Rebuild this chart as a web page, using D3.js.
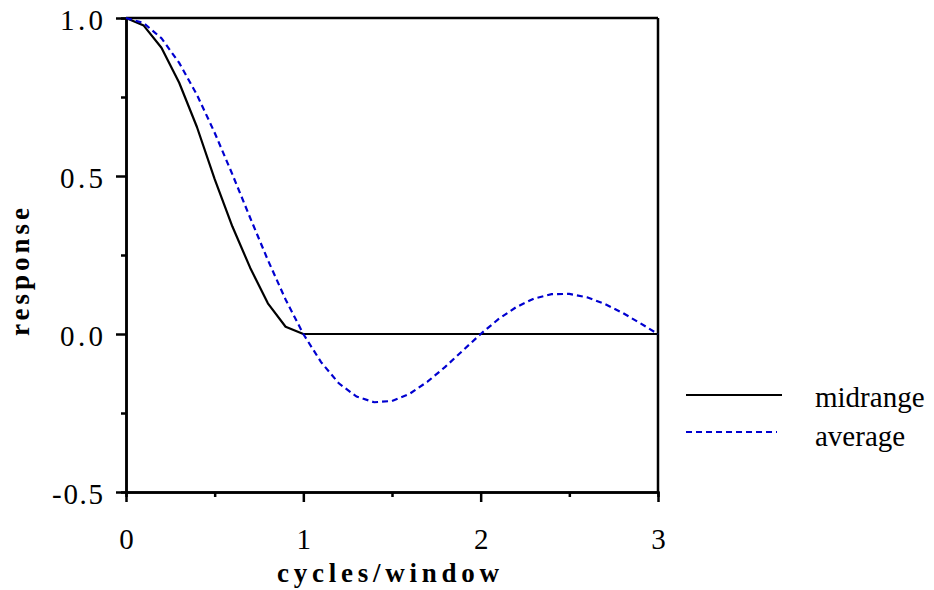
<!DOCTYPE html>
<html>
<head>
<meta charset="utf-8">
<script src="https://cdn.jsdelivr.net/npm/d3@7"></script>
<style>
  body { margin: 0; background: #fff; }
  svg { display: block; }
</style>
</head>
<body>
<svg id="chart" width="934" height="590"></svg>
<script>
// ---- data ----
const xMidrange = [0, 0.1, 0.2, 0.3, 0.4, 0.5, 0.6, 0.7, 0.8, 0.9, 1.0,
  1.1, 1.2, 1.3, 1.4, 1.5, 1.6, 1.7, 1.8, 1.9, 2.0,
  2.1, 2.2, 2.3, 2.4, 2.5, 2.6, 2.7, 2.8, 2.9, 3.0];
const midrange = [1.0, 0.976, 0.906, 0.795, 0.655, 0.49, 0.34, 0.21, 0.097, 0.023, 0.0,
  0, 0, 0, 0, 0, 0, 0, 0, 0, 0,
  0, 0, 0, 0, 0, 0, 0, 0, 0, 0];
const xAverage = [0, 0.1, 0.2, 0.3, 0.4, 0.5, 0.6, 0.7, 0.8, 0.9, 1.0,
  1.1, 1.2, 1.3, 1.4, 1.5, 1.6, 1.7, 1.8, 1.9, 2.0,
  2.1, 2.2, 2.3, 2.4, 2.5, 2.6, 2.7, 2.8, 2.9, 3.0];
const average = [1.0, 0.984, 0.936, 0.858, 0.757, 0.637, 0.505, 0.368, 0.234, 0.109, 0.0,
  -0.089, -0.156, -0.198, -0.216, -0.212, -0.189, -0.151, -0.104, -0.052, 0.0,
  0.047, 0.085, 0.112, 0.126, 0.127, 0.116, 0.095, 0.067, 0.034, 0.0];
const xTicks = [0, 1, 2, 3];
const xMinorTicks = [0.5, 1.5, 2.5];
const yTicks = [-0.5, 0.0, 0.5, 1.0];
const yTickLabels = ["-0.5", "0.0", "0.5", "1.0"];
const yMinorTicks = [-0.25, 0.25, 0.75];
const seriesNames = ["midrange", "average"];

// ---- layout ----
const FONT = "Liberation Serif";
const svg = d3.select("#chart");
const L = 126, R = 658, T = 18, B = 492;
const x = d3.scaleLinear().domain([0, 3]).range([L, R]);
const y = d3.scaleLinear().domain([-0.5, 1.0]).range([B, T]);

// frame (top + right)
svg.append("line").attr("x1", L).attr("x2", R).attr("y1", T).attr("y2", T)
  .attr("stroke", "#000").attr("stroke-width", 2.5);
svg.append("line").attr("x1", R).attr("x2", R).attr("y1", T).attr("y2", B)
  .attr("stroke", "#000").attr("stroke-width", 2.5);

// x axis
const gx = svg.append("g").attr("transform", `translate(0,${B})`)
  .call(d3.axisBottom(x).tickValues(xTicks).tickFormat(d3.format("d")).tickSize(10).tickPadding(26));
const gxm = svg.append("g").attr("transform", `translate(0,${B})`)
  .call(d3.axisBottom(x).tickValues(xMinorTicks).tickFormat("").tickSize(5));
// y axis
const gy = svg.append("g").attr("transform", `translate(${L},0)`)
  .call(d3.axisLeft(y).tickValues(yTicks)
    .tickFormat(d => yTickLabels[yTicks.indexOf(d)]).tickSize(10).tickPadding(13));
const gym = svg.append("g").attr("transform", `translate(${L},0)`)
  .call(d3.axisLeft(y).tickValues(yMinorTicks).tickFormat("").tickSize(5));

[gx, gxm, gy, gym].forEach(g => {
  g.attr("font-family", FONT).attr("font-size", 29);
  g.select(".domain").attr("stroke", "#000").attr("stroke-width", 2.5);
  g.selectAll(".tick line").attr("stroke", "#000").attr("stroke-width", 2.5);
  g.selectAll(".tick text").attr("fill", "#000");
});
gy.selectAll(".tick text").attr("dy", "0.4em")
  .attr("textLength", d => (d < 0 ? 51 : 43)).attr("lengthAdjust", "spacing");
gx.selectAll(".domain").attr("d", `M${L},0.5H${R}`);
gy.selectAll(".domain").attr("d", `M0.5,${T}V${B}`);

// lines
const line = d3.line().x(d => x(d[0])).y(d => y(d[1]));
const midPts = xMidrange.map((v, i) => [v, midrange[i]]);
const avgPts = xAverage.map((v, i) => [v, average[i]]);

svg.append("path").datum(midPts).attr("d", line)
  .attr("fill", "none").attr("stroke", "#000").attr("stroke-width", 2.2)
  .attr("stroke-linejoin", "round");
svg.append("path").datum(avgPts).attr("d", line)
  .attr("fill", "none").attr("stroke", "#0000d0").attr("stroke-width", 2.2)
  .attr("stroke-dasharray", "6,4");

// axis titles
svg.append("text").attr("x", 388).attr("y", 582)
  .attr("text-anchor", "middle")
  .attr("font-family", FONT).attr("font-size", 27).attr("font-weight", "bold")
  .attr("textLength", 222).attr("lengthAdjust", "spacing")
  .text("cycles/window");
svg.append("text").attr("transform", `translate(29,${272}) rotate(-90)`)
  .attr("text-anchor", "middle")
  .attr("font-family", FONT).attr("font-size", 27).attr("font-weight", "bold")
  .attr("textLength", 128).attr("lengthAdjust", "spacing")
  .text("response");

// legend
const legend = svg.append("g");
const legendY = [395, 432];
const legendTextY = [407, 446];
seriesNames.forEach((name, i) => {
  legend.append("line").attr("x1", 686).attr("x2", i === 0 ? 782 : 777)
    .attr("y1", legendY[i]).attr("y2", legendY[i])
    .attr("stroke", i === 0 ? "#000" : "#0000d0").attr("stroke-width", 2.2)
    .attr("stroke-dasharray", i === 0 ? null : "6,4");
  legend.append("text").attr("x", 815).attr("y", legendTextY[i])
    .attr("font-family", FONT).attr("font-size", 29)
    .text(name);
});
</script>
</body>
</html>
